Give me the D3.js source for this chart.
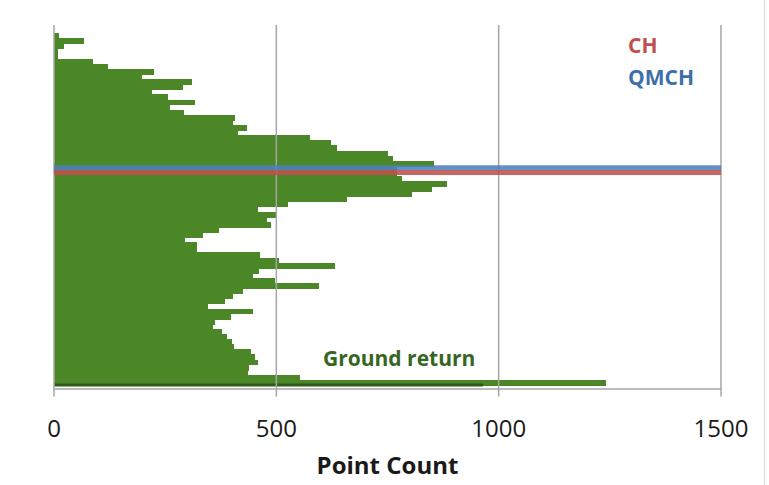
<!DOCTYPE html>
<html>
<head>
<meta charset="utf-8">
<script src="https://cdn.jsdelivr.net/npm/d3@7"></script>
<style>
  body { margin: 0; background: #fff; }
  svg { display: block; font-family: "Open Sans", sans-serif; }
</style>
</head>
<body>
<div id="vis"></div>
<script>
// point counts per height bin, listed from the top bin down to the ground bin
const pointCounts = [
  11, 68, 22, 10, 10, 87, 122, 224, 197, 311,
  289, 220, 257, 316, 261, 293, 407, 402, 435, 413,
  576, 623, 637, 752, 763, 855, 771, 771, 782, 883,
  849, 804, 658, 527, 458, 500, 478, 488, 370, 336,
  295, 321, 321, 463, 505, 632, 460, 448, 497, 596,
  426, 402, 385, 347, 448, 398, 362, 358, 377, 388,
  400, 405, 442, 452, 458, 439, 437, 553, 1241
];
const groundStrip = 965;           // thin dark strip right on the baseline
const xTicks = [0, 500, 1000, 1500];
// canopy height lines, in height-bin units from the ground
const heightLines = [
  {name: "QMCH", bin: 42.6, color: "#4f81bd"},
  {name: "CH", bin: 41.7, color: "#c0504d"}
];

const width = 769;
const height = 485;
const margin = {top: 25, right: 48, bottom: 97, left: 54};

const svg = d3.select("#vis")
  .append("svg")
  .attr("width", width)
  .attr("height", height);

const nBins = pointCounts.length;
const barBottom = 385;
const barTop = 33.3;

const x = d3.scaleLinear()
  .domain([0, 1500])
  .range([margin.left, width - margin.right]);

// y in bin units, 0 = ground
const y = d3.scaleLinear()
  .domain([0, nBins])
  .range([barBottom, barTop]);

const axisY = height - margin.bottom + 0.5;

// bars (bin index counted from the ground)
const bins = pointCounts.map((v, i) => ({value: v, bin: nBins - 1 - i}));

svg.append("g")
    .attr("shape-rendering", "crispEdges")
  .selectAll("rect")
  .data(bins)
  .join("rect")
    .attr("x", x(0))
    .attr("y", d => y(d.bin + 1))
    .attr("width", d => x(d.value) - x(0))
    .attr("height", d => y(d.bin) - y(d.bin + 1) + 0.8)
    .attr("fill", "#4b8727");

svg.append("rect")
  .attr("x", x(0))
  .attr("y", barBottom - 1.5)
  .attr("width", x(groundStrip) - x(0))
  .attr("height", 3)
  .attr("fill", "#2e5a1a");

// gridlines
svg.append("g")
  .selectAll("line")
  .data(xTicks)
  .join("line")
    .attr("x1", d => x(d))
    .attr("x2", d => x(d))
    .attr("y1", margin.top)
    .attr("y2", axisY + 8)
    .attr("stroke", "#a6a6a6")
    .attr("stroke-width", 1.5);

// bottom axis line
svg.append("line")
  .attr("x1", x(0))
  .attr("x2", x(1500))
  .attr("y1", axisY + 0.5)
  .attr("y2", axisY + 0.5)
  .attr("stroke", "#a6a6a6")
  .attr("stroke-width", 1.5);

// CH / QMCH lines
svg.append("g")
  .selectAll("line")
  .data(heightLines)
  .join("line")
    .attr("x1", x(0))
    .attr("x2", x(1500))
    .attr("y1", d => y(d.bin))
    .attr("y2", d => y(d.bin))
    .attr("stroke", d => d.color)
    .attr("stroke-width", 5)
    .attr("opacity", 0.88);

// tick labels
svg.append("g")
  .selectAll("text")
  .data(xTicks)
  .join("text")
    .attr("x", d => x(d))
    .attr("y", 437)
    .attr("text-anchor", "middle")
    .attr("font-size", 24)
    .attr("fill", "#1a1a1a")
    .text(d => d);

svg.append("text")
  .attr("x", (x(0) + x(1500)) / 2)
  .attr("y", 474)
  .attr("text-anchor", "middle")
  .attr("font-size", 24)
  .attr("font-weight", "bold")
  .attr("fill", "#1a1a1a")
  .text("Point Count");

// labels inside the plot
svg.append("text")
  .attr("x", 323)
  .attr("y", 366)
  .attr("font-size", 21)
  .attr("font-weight", "bold")
  .attr("fill", "#36661f")
  .text("Ground return");

svg.append("text")
  .attr("x", 628)
  .attr("y", 53)
  .attr("font-size", 21)
  .attr("font-weight", "bold")
  .attr("fill", "#c0504d")
  .text("CH");

svg.append("text")
  .attr("x", 628)
  .attr("y", 85)
  .attr("font-size", 21)
  .attr("font-weight", "bold")
  .attr("fill", "#3f6fa8")
  .text("QMCH");

// faint chart border at the right edge
svg.append("line")
  .attr("x1", 764.5)
  .attr("x2", 764.5)
  .attr("y1", 0)
  .attr("y2", height)
  .attr("stroke", "#d9d9d9");
</script>
</body>
</html>
